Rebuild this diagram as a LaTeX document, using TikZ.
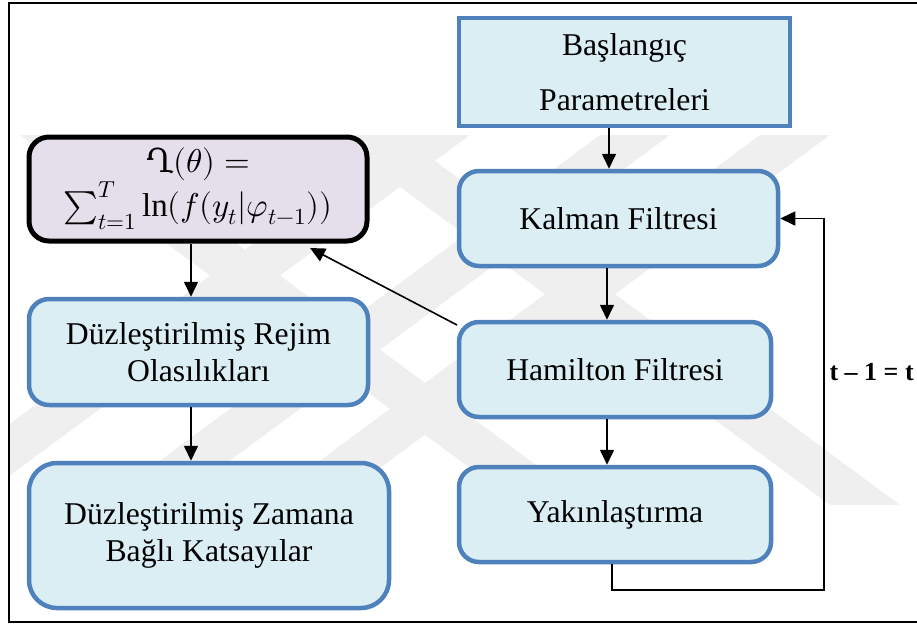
\documentclass[tikz,border=0pt]{standalone}
\usepackage{fontspec}
\usepackage{unicode-math}
\setmainfont{Liberation Serif}
\setmathfont{Latin Modern Math}
\newfontfamily\glyphfont{DejaVu Serif}
\usetikzlibrary{arrows.meta}
\definecolor{boxfill}{HTML}{DAEEF3}
\definecolor{boxline}{HTML}{4F81BD}
\definecolor{formfill}{HTML}{E5DFEC}
\definecolor{wmark}{HTML}{EFEFEF}
\begin{document}
\begin{tikzpicture}[x=1pt,y=-1pt,
  bluebox/.style={draw=boxline, fill=boxfill, line width=4.5pt, rounded corners=20pt, inner sep=0pt, align=center, font=\fontsize{31.7}{37}\selectfont},
  formbox/.style={draw=black, fill=formfill, line width=5pt, rounded corners=20pt, inner sep=0pt, align=center, font=\fontsize{33}{40}\selectfont},
  arr/.style={-{Triangle[length=15pt,width=14pt]}, line width=1.6pt},
  lbl/.style={font=\fontsize{26}{30}\selectfont\bfseries}
]
\useasboundingbox (0,0) rectangle (917,625);
% watermark
\begin{scope}
\clip (9,135) rectangle (917,505);
\fill[wmark] (400,135) -- (470,135) -- (-30,505) -- (-100,505) -- cycle;
\fill[wmark] (600,135) -- (670,135) -- (170,505) -- (100,505) -- cycle;
\fill[wmark] (760,135) -- (830,135) -- (330,505) -- (260,505) -- cycle;
\fill[wmark] (20,135) -- (90,135) -- (590,505) -- (520,505) -- cycle;
\fill[wmark] (330,135) -- (400,135) -- (900,505) -- (830,505) -- cycle;
\end{scope}
% frame
\draw[line width=2.5pt] (930,3) -- (9,3) -- (9,622) -- (930,622);
% boxes
\node[bluebox, rounded corners=0pt, minimum width=331pt, minimum height=108pt, font=\fontsize{31.7}{55}\selectfont] (basl) at (624.5,72) {Başlangıç\\Parametreleri};
\node[bluebox, minimum width=319pt, minimum height=95pt] (kalman) at (618.5,218.5) {Kalman Filtresi};
\node[bluebox, minimum width=312pt, minimum height=95pt] (hamilton) at (615,369.5) {Hamilton Filtresi};
\node[bluebox, minimum width=312pt, minimum height=95pt] (yakin) at (615,514.5) {Yakınlaştırma};
\node[formbox, minimum width=338pt, minimum height=104pt] (form) at (198,189)
  {$\text{\glyphfont Ղ}(\theta) =$\\$\textstyle\sum_{t=1}^{T}\ln(f(y_t|\varphi_{t-1}))$};
\node[bluebox, minimum width=339pt, minimum height=106pt] (rejim) at (198.5,352) {Düzleştirilmiş Rejim\\Olasılıkları};
\node[bluebox, rounded corners=28pt, minimum width=360pt, minimum height=145pt] (zaman) at (209,535.5) {Düzleştirilmiş Zamana\\Bağlı Katsayılar};
% arrows
\draw[arr] (basl.south -| 609,0) -- (kalman.north -| 609,0);
\draw[arr] (kalman.south -| 607,0) -- (hamilton.north -| 607,0);
\draw[arr] (hamilton.south -| 607,0) -- (yakin.north -| 607,0);
\draw[arr] (form.south -| 191,0) -- (rejim.north -| 191,0);
\draw[arr] (rejim.south -| 191,0) -- (zaman.north -| 191,0);
\coordinate (hstart) at (457,325);
\draw[arr] (hstart) -- (310,248);
\coordinate (fb1) at (612,590);
\coordinate (fb2) at (824,590);
\draw[arr] (yakin.south -| 612,0) -- (fb1) -- (fb2) -- (fb2 |- kalman.east) -- (kalman.east);
\node[lbl, anchor=west] (tlabel) at (826,372) {t – 1 = t};
\end{tikzpicture}
\end{document}
